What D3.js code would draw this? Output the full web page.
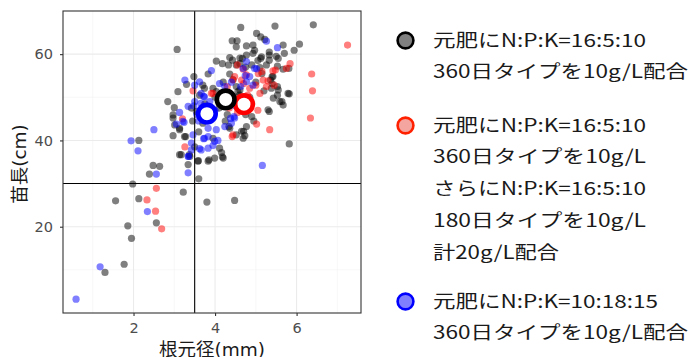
<!DOCTYPE html>
<html>
<head>
<meta charset="utf-8">
<script src="https://cdn.jsdelivr.net/npm/d3@7"></script>
<style>
  body { margin: 0; background: #fff; }
  text { font-family: "DejaVu Sans", "Noto Sans CJK JP", sans-serif; }
</style>
</head>
<body>
<script>
// 根元径(mm), 苗長(cm) per treatment
var blackPts = [[3.07,61.1],[4.63,66.2],[5.47,66.5],[6.41,66.8],[5.02,64.8],[5.12,64.0],[5.22,63.4],[4.42,63.1],[4.54,63.1],[4.52,61.7],[4.77,61.9],[4.93,62.1],[4.97,60.9],[5.33,60.5],[5.67,62.1],[5.70,60.2],[6.07,62.3],[5.94,60.9],[5.33,59.8],[5.50,59.5],[5.33,58.6],[5.12,59.0],[4.77,59.8],[4.93,60.2],[4.67,59.0],[4.03,58.4],[4.18,57.8],[4.33,57.5],[4.43,58.6],[4.61,57.8],[5.26,57.5],[5.53,57.2],[5.67,56.5],[5.81,56.7],[5.82,50.8],[5.40,54.8],[5.36,54.0],[5.40,53.2],[5.53,52.5],[5.55,51.7],[5.43,49.8],[5.53,50.5],[5.64,49.0],[5.67,48.2],[5.33,46.7],[5.82,39.2],[4.77,43.2],[4.70,42.1],[4.73,41.1],[4.52,41.3],[4.34,43.2],[4.11,38.2],[4.16,37.2],[4.18,36.2],[3.85,35.5],[3.59,35.3],[3.60,31.1],[3.80,25.7],[4.48,26.1],[3.22,28.0],[3.48,54.8],[3.83,55.4],[2.84,49.0],[3.00,47.6],[2.97,45.9],[2.97,45.2],[3.13,42.8],[2.97,41.1],[3.28,40.9],[3.17,36.7],[3.38,36.3],[2.48,34.2],[2.64,34.0],[2.39,32.2],[2.13,40.0],[1.98,29.9],[2.13,26.5],[1.56,26.0],[1.86,20.2],[2.56,20.9],[1.95,17.3],[1.77,11.3],[1.30,9.4],[3.09,51.3],[4.36,59.2],[4.61,59.1],[4.52,57.5],[3.70,52.8],[3.74,52.1],[4.36,55.4],[4.44,54.1],[3.95,52.1],[4.03,51.3],[3.62,50.5],[4.52,52.5],[4.56,51.3],[3.42,47.5],[3.54,46.7],[5.14,59.4],[5.55,59.0],[5.10,56.9],[5.42,54.8],[5.38,52.1],[5.79,50.9],[5.59,49.0],[5.30,47.1],[3.01,43.6],[3.13,42.5],[3.25,40.9],[3.13,36.7],[3.37,36.7],[3.34,34.4],[3.58,35.2],[3.83,35.2],[3.99,35.9],[4.20,35.9],[4.36,42.8],[4.65,42.1],[4.69,40.5],[4.20,53.5],[4.00,50.0],[4.10,47.5],[4.60,50.5],[4.75,46.0],[4.90,45.5],[4.85,50.0],[4.65,48.0],[4.95,44.5],[4.30,46.0],[3.75,48.5],[3.90,46.5],[4.25,44.5],[5.00,53.5],[5.15,55.5],[5.20,51.5],[4.90,57.5],[4.75,57.0],[5.05,58.5],[3.30,53.0],[3.45,44.5],[3.60,42.0],[3.95,40.5],[3.50,38.5],[3.70,44.0],[4.44,50.2],[4.61,51.7]];
var redPts = [[7.25,62.1],[6.37,55.4],[6.39,51.5],[6.34,45.2],[5.84,57.8],[5.75,56.7],[5.48,56.3],[5.42,56.1],[5.34,42.5],[5.02,43.8],[4.42,40.9],[3.26,38.5],[2.33,26.2],[2.56,28.9],[2.54,23.6],[2.69,19.5],[3.46,51.5],[3.95,50.9],[4.44,41.3],[4.44,54.0],[4.69,56.5],[4.77,55.2],[4.65,54.0],[3.91,50.9],[5.06,55.5],[5.18,54.0],[5.26,52.5],[4.85,52.1],[5.10,50.9],[4.48,54.8],[4.80,50.5],[4.60,49.5],[4.90,48.5],[5.05,47.0],[4.55,46.5],[4.35,47.5],[4.20,50.0],[5.00,52.8],[4.70,53.2],[4.55,57.5],[5.15,56.0],[3.20,45.0],[4.30,52.5],[5.30,53.8],[5.45,52.8]];
var bluePts = [[0.59,3.2],[1.18,10.7],[1.94,39.9],[2.11,37.6],[2.50,42.5],[2.56,32.2],[2.34,23.5],[3.26,54.0],[3.34,32.5],[3.35,36.3],[3.46,41.3],[3.42,39.4],[3.91,56.2],[5.16,34.2],[5.26,63.0],[5.53,61.5],[3.72,40.4],[3.83,40.9],[3.62,38.1],[3.95,38.8],[4.07,40.0],[3.13,46.5],[3.05,43.8],[3.24,44.2],[3.48,48.0],[3.65,48.6],[3.72,50.2],[3.87,49.0],[4.13,49.4],[4.38,45.1],[4.46,45.5],[4.50,48.0],[4.40,53.5],[4.74,55.0],[5.02,56.6],[4.77,58.3],[4.63,52.5],[3.50,52.8],[3.62,53.6],[3.66,50.9],[3.74,50.1],[4.11,53.2],[4.24,52.5],[3.50,49.0],[4.69,56.7],[4.97,56.7],[4.85,54.8],[4.77,53.6],[4.93,52.8],[3.34,47.9],[3.21,44.4],[3.83,42.8],[3.74,40.5],[4.03,42.5],[3.99,39.8],[3.83,38.2],[3.66,37.8],[3.42,37.8],[3.34,36.3],[4.24,43.2],[4.40,44.0],[4.48,45.2],[3.90,45.0],[3.60,44.5],[4.00,47.0],[3.55,46.0]];

// group means (large open circles)
var meanPts = [[4.71,48.4,'red'],[3.80,46.2,'blue'],[4.26,49.5,'black']];

var xTicks = [2, 4, 6];
var yTicks = [20, 40, 60];
var xMinor = [1, 3, 5, 7];
var yMinor = [10, 30, 50];
var refX = 3.5, refY = 30;

var legendItems = [
    {color: 'black', fill: '#808080', lines: ['元肥にN:P:K=16:5:10', '360日タイプを10g/L配合']},
    {color: '#FF2000', fill: '#F5A5A0', lines: ['元肥にN:P:K=16:5:10', '360日タイプを10g/L', 'さらにN:P:K=16:5:10', '180日タイプを10g/L', '計20g/L配合']},
    {color: 'blue', fill: '#8080FF', lines: ['元肥にN:P:K=10:18:15', '360日タイプを10g/L配合']}
];
// rendered width of each legend line (layout)
var legendWidths = [[213, 255], [213, 213, 213, 213, 126], [225, 255]];

var width = 690, height = 357;
var panel = {left: 63, right: 361, top: 11, bottom: 313};

var svg = d3.select('body').append('svg')
    .attr('width', width)
    .attr('height', height);

var x = d3.scaleLinear().domain([0.27, 7.58]).range([panel.left, panel.right]);
var y = d3.scaleLinear().domain([0, 70]).range([panel.bottom, panel.top]);

// grid
svg.append('g').selectAll('line.minx')
    .data(xMinor).enter().append('line')
    .attr('x1', d => x(d)).attr('x2', d => x(d))
    .attr('y1', panel.top).attr('y2', panel.bottom)
    .attr('stroke', '#F2F2F2').attr('stroke-width', 0.6);
svg.append('g').selectAll('line.miny')
    .data(yMinor).enter().append('line')
    .attr('x1', panel.left).attr('x2', panel.right)
    .attr('y1', d => y(d)).attr('y2', d => y(d))
    .attr('stroke', '#F2F2F2').attr('stroke-width', 0.6);
svg.append('g').selectAll('line.majx')
    .data(xTicks).enter().append('line')
    .attr('x1', d => x(d)).attr('x2', d => x(d))
    .attr('y1', panel.top).attr('y2', panel.bottom)
    .attr('stroke', '#EBEBEB').attr('stroke-width', 1.1);
svg.append('g').selectAll('line.majy')
    .data(yTicks).enter().append('line')
    .attr('x1', panel.left).attr('x2', panel.right)
    .attr('y1', d => y(d)).attr('y2', d => y(d))
    .attr('stroke', '#EBEBEB').attr('stroke-width', 1.1);

// points
function drawPts(pts, color) {
    svg.append('g').selectAll('circle')
        .data(pts).enter().append('circle')
        .attr('cx', d => x(d[0]))
        .attr('cy', d => y(d[1]))
        .attr('r', 3.6)
        .attr('fill', color)
        .attr('fill-opacity', 0.5);
}
drawPts(blackPts, 'black');
drawPts(redPts, 'red');
drawPts(bluePts, 'blue');

// reference lines
svg.append('line')
    .attr('x1', x(refX)).attr('x2', x(refX))
    .attr('y1', panel.top).attr('y2', panel.bottom)
    .attr('stroke', 'black').attr('stroke-width', 1.1);
svg.append('line')
    .attr('x1', panel.left).attr('x2', panel.right)
    .attr('y1', y(refY)).attr('y2', y(refY))
    .attr('stroke', 'black').attr('stroke-width', 1.1);

// means
svg.append('g').selectAll('circle')
    .data(meanPts).enter().append('circle')
    .attr('cx', d => x(d[0]))
    .attr('cy', d => y(d[1]))
    .attr('r', 8.8)
    .attr('fill', 'white')
    .attr('stroke', d => d[2])
    .attr('stroke-width', 4.6);

// panel border
svg.append('rect')
    .attr('x', panel.left).attr('y', panel.top)
    .attr('width', panel.right - panel.left)
    .attr('height', panel.bottom - panel.top)
    .attr('fill', 'none')
    .attr('stroke', '#333333').attr('stroke-width', 1.1);

// axes
var xAxis = svg.append('g')
    .attr('transform', 'translate(0,' + panel.bottom + ')')
    .call(d3.axisBottom(x).tickValues(xTicks).tickSize(3).tickPadding(7));
var yAxis = svg.append('g')
    .attr('transform', 'translate(' + panel.left + ',0)')
    .call(d3.axisLeft(y).tickValues(yTicks).tickSize(3).tickPadding(7));
[xAxis, yAxis].forEach(function (a) {
    a.select('.domain').remove();
    a.selectAll('line').attr('stroke', '#333333').attr('stroke-width', 1.1);
    a.selectAll('text')
        .attr('fill', '#4D4D4D')
        .style('font-size', '14.5px')
        .style('font-family', '"DejaVu Sans", sans-serif');
});

svg.append('text')
    .attr('x', (panel.left + panel.right) / 2)
    .attr('y', 356)
    .attr('text-anchor', 'middle')
    .attr('fill', '#1A1A1A')
    .style('font-size', '18.5px')
    .text('根元径(mm)');

svg.append('text')
    .attr('transform', 'translate(19,' + ((panel.top + panel.bottom) / 2 + 2) + ') rotate(-90)')
    .attr('dy', '0.37em')
    .attr('text-anchor', 'middle')
    .attr('fill', '#1A1A1A')
    .style('font-size', '18.5px')
    .text('苗長(cm)');

// legend
var lineH = 31.75;
var startY = [40, 125, 301];
legendItems.forEach(function (item, i) {
    var g = svg.append('g');
    g.append('circle')
        .attr('cx', 405.5).attr('cy', startY[i] + 0.5)
        .attr('r', 7.9)
        .attr('fill', item.fill)
        .attr('stroke', item.color)
        .attr('stroke-width', 2.6);
    item.lines.forEach(function (t, j) {
        g.append('text')
            .attr('x', 433)
            .attr('y', startY[i] + j * lineH)
            .attr('dy', '0.37em')
            .attr('fill', '#1A1A1A')
            .attr('textLength', legendWidths[i][j])
            .attr('lengthAdjust', 'spacingAndGlyphs')
            .style('font-family', '"Noto Sans CJK JP", sans-serif')
            .style('font-size', '18px')
            .text(t);
    });
});
</script>
</body>
</html>
